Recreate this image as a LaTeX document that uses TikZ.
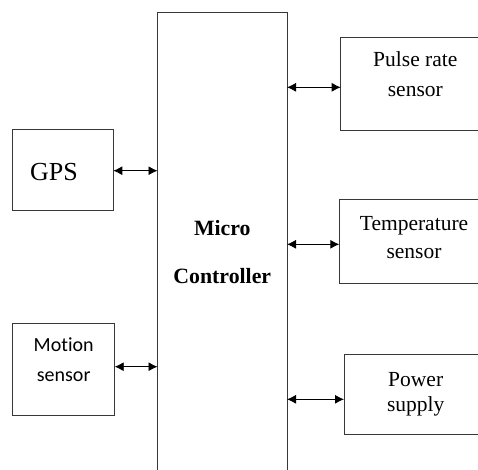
\documentclass[tikz,border=0pt]{standalone}
\usepackage{fontspec}
\setmainfont{Liberation Serif}
\newfontfamily\calfont[Ligatures=CommonOff]{Carlito}
\usetikzlibrary{arrows.meta}
\begin{document}
\begin{tikzpicture}[x=1pt,y=-1pt,
  line width=0.9pt,
  boxstyle/.style={draw=black!78, line width=0.9pt, rectangle, inner sep=0pt, outer sep=0pt},
  lbl/.style={anchor=base, inner sep=0pt, font=\fontsize{21.5}{21.5}\selectfont},
  conn/.style={{Latex[length=9pt,width=9pt]}-{Latex[length=9pt,width=9pt]}, draw=black, line width=0.9pt}]
\clip (0,0) rectangle (478,469);
\fill[white] (0,0) rectangle (478,469);
% central controller (open at bottom)
\node[boxstyle, minimum width=129.5pt, minimum height=467.3pt] (mc) at (222.25,246.35) {};
\node[lbl, font=\fontsize{21.8}{21.8}\bfseries] (mtxt1) at (222.3,235) {Micro};
\node[lbl, font=\fontsize{21.8}{21.8}\bfseries] (mtxt2) at (222.3,283.3) {Controller};
% GPS
\node[boxstyle, minimum width=101.3pt, minimum height=81.7pt] (gps) at (62.65,169.85) {};
\node[lbl, font=\fontsize{26}{26}\selectfont] (gpstxt) at (54,180) {GPS};
% Motion sensor
\node[boxstyle, minimum width=102pt, minimum height=91.3pt] (mot) at (63.7,369.35) {};
\node[lbl, font=\calfont\fontsize{20}{20}\selectfont] (mot1) at (63.7,351.7) {Motion};
\node[lbl, font=\calfont\fontsize{20}{20}\selectfont] (mot2) at (63.7,381) {sensor};
% Pulse rate
\node[boxstyle, minimum width=150pt, minimum height=93pt] (pulse) at (415.7,84.2) {};
\node[lbl] (p1) at (415.3,66.7) {Pulse rate};
\node[lbl] (p2) at (415.3,96.7) {sensor};
% Temperature
\node[boxstyle, minimum width=150pt, minimum height=84.4pt] (temp) at (414.3,241.5) {};
\node[lbl] (t1) at (414,230) {Temperature};
\node[lbl] (t2) at (414,258.3) {sensor};
% Power supply
\node[boxstyle, minimum width=143pt, minimum height=80.3pt] (pow) at (415.5,394.15) {};
\node[lbl] (w1) at (415.7,386) {Power};
\node[lbl] (w2) at (415.7,411) {supply};
% connector anchor points
\coordinate (ga) at (113.3,170.7);
\coordinate (ma) at (114.7,366.7);
\coordinate (pa) at (340.7,87.3);
\coordinate (ta) at (339.3,244.3);
\coordinate (wa) at (344,399.3);
\draw[conn] (gps.east |- ga) -- (ga -| mc.west);
\draw[conn] (mot.east |- ma) -- (ma -| mc.west);
\draw[conn] (pa -| mc.east) -- (pulse.west |- pa);
\draw[conn] (ta -| mc.east) -- (temp.west |- ta);
\draw[conn] (wa -| mc.east) -- (pow.west |- wa);
\end{tikzpicture}
\end{document}
